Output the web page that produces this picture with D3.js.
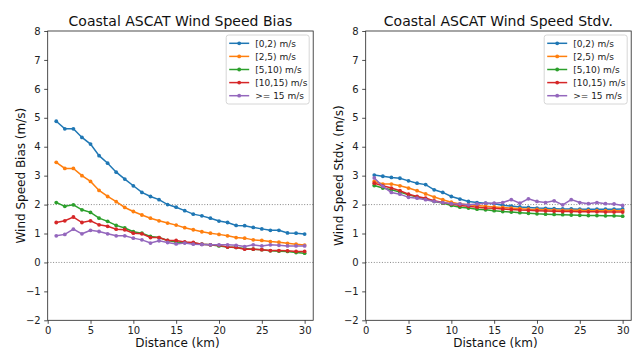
<!DOCTYPE html>
<html lang="en">
<head>
  <meta charset="UTF-8" />
  <title>Coastal ASCAT Wind Speed</title>
  <script src="https://d3js.org/d3.v7.min.js"></script>
  <style>
    html, body { margin: 0; background: #fff; }
    svg { display: block; font-family: "DejaVu Sans", sans-serif; }
    .tick text { font-size: 10px; fill: #222; }
    .tick line { stroke: #222; stroke-width: 0.8px; }
    .frame { fill: none; stroke: #222; stroke-width: 0.8px; }
    .ref { stroke: #888; stroke-width: 1px; stroke-dasharray: 1,1.7; }
    .series { fill: none; stroke-width: 1.5px; }
  </style>
</head>
<body>
  <svg id="chart" width="632" height="351"></svg>
  <script>
    // ----- data -----
    const distance = d3.range(1, 31);
    const bins = ['[0,2) m/s', '[2,5) m/s', '[5,10) m/s', '[10,15) m/s', '>= 15 m/s'];
    const colors = ['#1f77b4', '#ff7f0e', '#2ca02c', '#d62728', '#9467bd'];
    const yTicks = d3.range(-2, 9);
    const xTicks = [0, 5, 10, 15, 20, 25, 30];

    const bias_0_2 = [4.88, 4.62, 4.62, 4.32, 4.09, 3.69, 3.43, 3.12, 2.88, 2.65,
                      2.42, 2.28, 2.17, 2.00, 1.91, 1.79, 1.67, 1.61, 1.53, 1.43,
                      1.38, 1.28, 1.27, 1.21, 1.16, 1.11, 1.11, 1.02, 1.01, 0.98];
    const bias_2_5 = [3.46, 3.25, 3.25, 3.00, 2.80, 2.49, 2.28, 2.10, 1.90, 1.76,
                      1.64, 1.53, 1.44, 1.36, 1.29, 1.20, 1.13, 1.06, 1.01, 0.97,
                      0.92, 0.86, 0.84, 0.78, 0.76, 0.72, 0.70, 0.66, 0.63, 0.60];
    const bias_5_10 = [2.07, 1.94, 1.99, 1.82, 1.73, 1.53, 1.42, 1.28, 1.19, 1.06,
                       1.01, 0.90, 0.86, 0.76, 0.71, 0.69, 0.67, 0.63, 0.61, 0.57,
                       0.53, 0.52, 0.48, 0.46, 0.44, 0.40, 0.39, 0.38, 0.34, 0.32];
    const bias_10_15 = [1.38, 1.44, 1.57, 1.38, 1.44, 1.30, 1.25, 1.15, 1.13, 1.01,
                        0.99, 0.86, 0.86, 0.76, 0.76, 0.71, 0.69, 0.63, 0.61, 0.59,
                        0.53, 0.52, 0.46, 0.46, 0.44, 0.41, 0.41, 0.40, 0.38, 0.38];
    const bias_15 = [0.92, 0.97, 1.15, 0.99, 1.11, 1.07, 0.99, 0.92, 0.92, 0.84,
                     0.78, 0.67, 0.75, 0.69, 0.64, 0.67, 0.63, 0.62, 0.61, 0.61,
                     0.61, 0.59, 0.55, 0.61, 0.57, 0.61, 0.59, 0.57, 0.57, 0.57];

    const std_0_2 = [3.02, 2.98, 2.94, 2.91, 2.82, 2.74, 2.69, 2.51, 2.42, 2.28,
                     2.19, 2.11, 2.07, 2.05, 2.03, 1.98, 1.95, 1.92, 1.90, 1.88,
                     1.87, 1.86, 1.85, 1.85, 1.84, 1.84, 1.84, 1.84, 1.84, 1.85];
    const std_2_5 = [2.80, 2.71, 2.71, 2.65, 2.57, 2.48, 2.37, 2.26, 2.17, 2.08,
                     2.02, 1.99, 1.97, 1.94, 1.92, 1.90, 1.88, 1.86, 1.84, 1.83,
                     1.82, 1.81, 1.80, 1.80, 1.80, 1.79, 1.79, 1.79, 1.79, 1.79];
    const std_5_10 = [2.66, 2.57, 2.51, 2.43, 2.34, 2.26, 2.20, 2.11, 2.05, 1.97,
                      1.91, 1.88, 1.84, 1.82, 1.79, 1.76, 1.74, 1.72, 1.70, 1.68,
                      1.67, 1.66, 1.65, 1.64, 1.63, 1.62, 1.62, 1.61, 1.61, 1.60];
    const std_10_15 = [2.74, 2.65, 2.57, 2.48, 2.36, 2.28, 2.22, 2.13, 2.07, 2.02,
                       1.97, 1.94, 1.91, 1.88, 1.87, 1.85, 1.83, 1.81, 1.80, 1.79,
                       1.78, 1.77, 1.76, 1.76, 1.75, 1.75, 1.75, 1.74, 1.74, 1.74];
    const std_15 = [2.92, 2.63, 2.42, 2.36, 2.25, 2.22, 2.17, 2.11, 2.07, 2.03,
                    2.02, 1.99, 2.02, 2.05, 2.05, 2.07, 2.17, 2.05, 2.20, 2.11,
                    2.07, 2.13, 1.99, 2.17, 2.07, 2.03, 2.07, 2.03, 2.02, 1.97];

    const panels = [
      { title: 'Coastal ASCAT Wind Speed Bias', ylabel: 'Wind Speed Bias (m/s)',
        left: 47.7, series: [bias_0_2, bias_2_5, bias_5_10, bias_10_15, bias_15] },
      { title: 'Coastal ASCAT Wind Speed Stdv.', ylabel: 'Wind Speed Stdv. (m/s)',
        left: 365.7, series: [std_0_2, std_2_5, std_5_10, std_10_15, std_15] }
    ];

    const svg = d3.select('#chart');
    const plotW = 265.5, plotTop = 31, plotBottom = 320.3;
    const fmt = v => (v < 0 ? '\u2212' + Math.abs(v) : String(v));

    panels.forEach(p => {
      const x = d3.scaleLinear().domain([0, 31]).range([p.left, p.left + plotW]);
      const y = d3.scaleLinear().domain([-2, 8]).range([plotBottom, plotTop]);
      const g = svg.append('g');

      // reference lines
      [0, 2].forEach(v => {
        g.append('line').attr('class', 'ref')
          .attr('x1', x(0)).attr('x2', x(31))
          .attr('y1', y(v)).attr('y2', y(v));
      });

      // axes
      g.append('g')
        .attr('transform', `translate(0,${plotBottom})`)
        .call(d3.axisBottom(x).tickValues(xTicks).tickSize(3.5).tickPadding(3.5).tickFormat(fmt))
        .call(a => a.select('.domain').remove());
      g.append('g')
        .attr('transform', `translate(${p.left},0)`)
        .call(d3.axisLeft(y).tickValues(yTicks).tickSize(3.5).tickPadding(3.5).tickFormat(fmt))
        .call(a => a.select('.domain').remove());
      g.selectAll('g').attr('font-family', null).attr('font-size', null);

      // lines + markers
      const line = d3.line().x((d, i) => x(distance[i])).y(d => y(d));
      p.series.forEach((vals, k) => {
        g.append('path').attr('class', 'series')
          .attr('stroke', colors[k]).attr('d', line(vals));
        g.append('g').selectAll('circle').data(vals).join('circle')
          .attr('cx', (d, i) => x(distance[i]))
          .attr('cy', d => y(d))
          .attr('r', 1.9)
          .attr('fill', colors[k]);
      });

      // frame
      g.append('rect').attr('class', 'frame')
        .attr('x', p.left).attr('y', plotTop)
        .attr('width', plotW).attr('height', plotBottom - plotTop);

      // title and labels
      g.append('text')
        .attr('x', p.left + plotW / 2).attr('y', 26)
        .attr('text-anchor', 'middle').attr('font-size', 14).attr('fill', '#111')
        .text(p.title);
      g.append('text')
        .attr('x', p.left + plotW / 2 - 3).attr('y', 347)
        .attr('text-anchor', 'middle').attr('font-size', 12).attr('fill', '#111')
        .text('Distance (km)');
      g.append('text')
        .attr('transform', `translate(${p.left - 23},${(plotTop + plotBottom) / 2}) rotate(-90)`)
        .attr('text-anchor', 'middle').attr('font-size', 12).attr('fill', '#111')
        .text(p.ylabel);

      // legend
      const lx = p.left + 178.5, ly = 35;
      const leg = g.append('g');
      leg.append('rect')
        .attr('x', lx).attr('y', ly).attr('width', 83).attr('height', 69)
        .attr('rx', 2.5).attr('fill', 'rgba(255,255,255,0.8)')
        .attr('stroke', '#ccc').attr('stroke-width', 0.8);
      bins.forEach((b, k) => {
        const cy = ly + 8.3 + k * 13.1;
        leg.append('line')
          .attr('x1', lx + 3).attr('x2', lx + 23).attr('y1', cy).attr('y2', cy)
          .attr('stroke', colors[k]).attr('stroke-width', 1.5);
        leg.append('circle').attr('cx', lx + 13).attr('cy', cy).attr('r', 1.9)
          .attr('fill', colors[k]);
        leg.append('text')
          .attr('x', lx + 29).attr('y', cy + 3.2)
          .attr('font-size', 9).attr('fill', '#222')
          .text(b);
      });
    });
  </script>
</body>
</html>
